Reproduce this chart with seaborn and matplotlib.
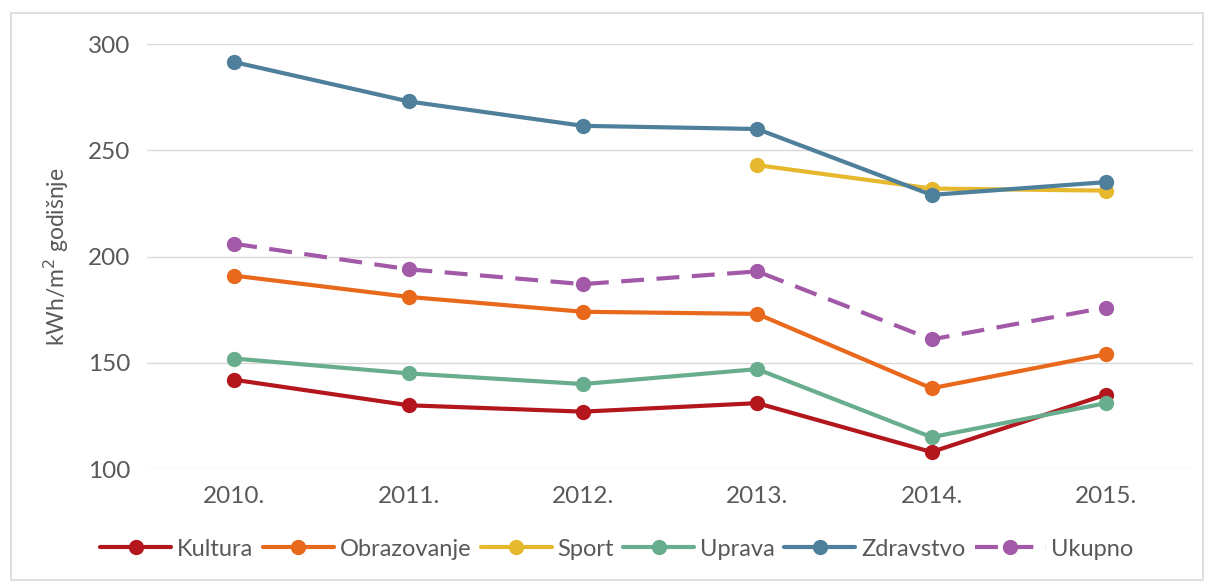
import matplotlib
matplotlib.use("Agg")
import matplotlib.pyplot as plt
import numpy as np
import pandas as pd
import seaborn as sns
from matplotlib.patches import Rectangle

# podaci očitani s grafa
godine = ["2010.", "2011.", "2012.", "2013.", "2014.", "2015."]
kultura = [142, 130, 127, 131, 108, 135]
obrazovanje = [191, 181, 174, 173, 138, 154]
sport = [np.nan, np.nan, np.nan, 243, 232, 231]
uprava = [152, 145, 140, 147, 115, 131]
zdravstvo = [291.5, 273, 261.5, 260, 229, 235]
ukupno = [206, 194, 187, 193, 161, 176]

serije = ["Kultura", "Obrazovanje", "Sport", "Uprava", "Zdravstvo", "Ukupno"]
vrijednosti = [kultura, obrazovanje, sport, uprava, zdravstvo, ukupno]
boje = ["#b3161c", "#e8681c", "#e6b82e", "#68ad8e", "#4e7f9b", "#a25aa8"]

df = pd.DataFrame(
    [(s, i, v) for s, vals in zip(serije, vrijednosti) for i, v in enumerate(vals)],
    columns=["serija", "x", "y"],
).dropna()

sns.set_style("white")
plt.rcParams["font.family"] = ["Lato", "DejaVu Sans"]
siva = "#595959"

fig = plt.figure(figsize=(12.1, 5.83), dpi=100)
ax = fig.add_axes([0.1215, 0.1955, 0.8645, 0.729])

sns.lineplot(
    data=df, x="x", y="y", hue="serija", style="serija",
    hue_order=serije, style_order=serije,
    palette=dict(zip(serije, boje)),
    markers={s: "o" for s in serije},
    dashes={s: ((5.5, 3) if s == "Ukupno" else "") for s in serije},
    linewidth=3, markersize=11, markeredgewidth=0, ax=ax,
)

ax.set_xlim(-0.5, 5.5)
ax.set_ylim(100, 300)
ax.set_yticks([100, 150, 200, 250, 300])
ax.set_xticks(range(len(godine)))
ax.set_xticklabels(godine)
ax.grid(axis="y", color="#d9d9d9", linewidth=1)
ax.set_axisbelow(True)
for sp in ax.spines.values():
    sp.set_visible(False)
ax.tick_params(axis="both", length=0, labelsize=17.5, colors=siva, pad=12)
ax.set_xlabel("")
ax.set_ylabel("kWh/m$^2$ godišnje", fontsize=16.5, color=siva, labelpad=12)

h, l = ax.get_legend_handles_labels()
if ax.legend_:
    ax.legend_.remove()
fig.legend(h, l, loc="center", bbox_to_anchor=(0.51, 0.058), ncol=6, frameon=False,
           fontsize=17, labelcolor=siva, handlelength=3.0, columnspacing=0.4,
           handletextpad=0.25)

fig.add_artist(Rectangle((0.009, 0.005), 0.985, 0.972, transform=fig.transFigure,
                         fill=False, edgecolor="#d9d9d9", linewidth=1.2))

fig.savefig("out.png", dpi=100)
